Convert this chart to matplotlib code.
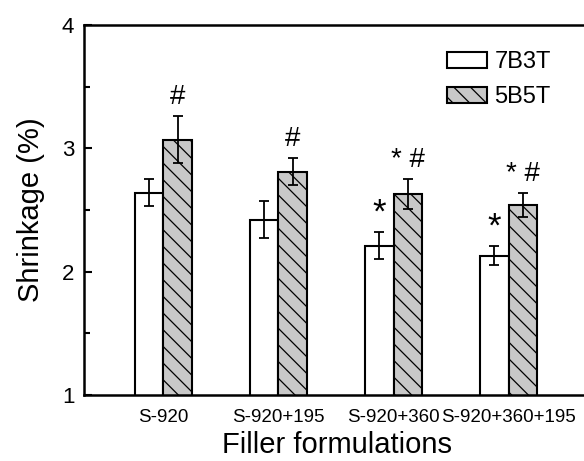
import numpy as np
import matplotlib.pyplot as plt

# dados
formulacoes = ['S-920', 'S-920+195', 'S-920+360', 'S-920+360+195']
media_7b3t = [2.64, 2.42, 2.21, 2.13]
erro_7b3t = [0.11, 0.15, 0.11, 0.08]
media_5b5t = [3.07, 2.81, 2.63, 2.54]
erro_5b5t = [0.19, 0.11, 0.12, 0.10]
marca_7b3t = ['', '', '*', '*']
marca_5b5t = ['#', '#', '* #', '* #']

plt.rcParams['font.family'] = ['Liberation Sans', 'DejaVu Sans']
plt.rcParams['hatch.linewidth'] = 0.9
plt.rcParams['hatch.color'] = '#333333'

fig = plt.figure(figsize=(5.84, 4.61), dpi=100)
ax = fig.add_axes([0.1438, 0.1432, 0.865, 0.8026])

x = np.arange(1, len(formulacoes) + 1)
largura = 0.25

ax.bar(x - largura / 2, media_7b3t, largura, color='white',
       edgecolor='black', linewidth=1.5, label='7B3T', zorder=2)
ax.bar(x + largura / 2, media_5b5t, largura, color='#c8c8c8',
       edgecolor='black', linewidth=1.5, hatch='\\\\', label='5B5T', zorder=2)
ax.errorbar(x - largura / 2, media_7b3t, yerr=erro_7b3t, fmt='none',
            ecolor='black', elinewidth=1.3, capsize=3.5, capthick=1.3, zorder=3)
ax.errorbar(x + largura / 2, media_5b5t, yerr=erro_5b5t, fmt='none',
            ecolor='black', elinewidth=1.3, capsize=3.5, capthick=1.3, zorder=3)

# marcas de significância
for xi, m, e, txt in zip(x - largura / 2, media_7b3t, erro_7b3t, marca_7b3t):
    if txt:
        ax.text(xi, m + e + 0.02, txt, ha='center', va='bottom', fontsize=25)
for xi, m, e, txt in zip(x + largura / 2, media_5b5t, erro_5b5t, marca_5b5t):
    ax.text(xi, m + e + 0.05, txt, ha='center', va='bottom', fontsize=20)

ax.set_ylim(1, 4)
ax.set_xlim(0.31, 4.7)
ax.set_yticks([1, 2, 3, 4])
ax.set_yticks([1.5, 2.5, 3.5], minor=True)
ax.set_xticks(x)
ax.set_xticklabels(formulacoes, fontsize=13.5)
ax.tick_params(axis='y', direction='in', length=6, width=1.5, labelsize=16, pad=7)
ax.tick_params(axis='y', which='minor', direction='in', length=4, width=1.5)
ax.tick_params(axis='x', length=0, pad=10)
for lado in ['left', 'top', 'bottom', 'right']:
    ax.spines[lado].set_linewidth(1.8)

ax.set_xlabel('Filler formulations', fontsize=21, labelpad=4)
ax.set_ylabel('Shrinkage (%)', fontsize=21, labelpad=12)

ax.legend(loc='upper left', bbox_to_anchor=(0.70, 0.955), frameon=False,
          fontsize=17, handlelength=1.7, handleheight=0.7, handletextpad=0.3,
          labelspacing=0.55, borderaxespad=0)

fig.savefig('out.png', dpi=100)
